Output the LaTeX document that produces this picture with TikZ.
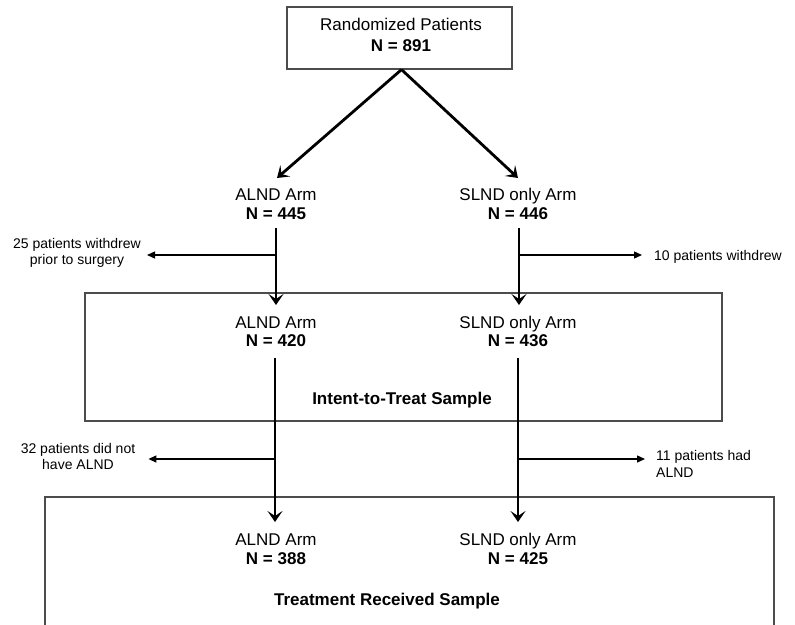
\documentclass[tikz,border=0pt]{standalone}
\usepackage{fontspec}
\setmainfont{Liberation Sans}
\usetikzlibrary{arrows.meta}
\begin{document}
\begin{tikzpicture}[x=1pt,y=-1pt,
  frame/.style={draw=black!70, line width=1.2pt},
  maintxt/.style={font=\fontsize{17}{18.5}\selectfont, align=center, inner sep=0pt},
  sidetxt/.style={font=\fontsize{14}{16.5}\selectfont, inner sep=0pt},
  bigarrow/.style={line width=2.8pt, -{Stealth[length=11pt,width=15pt,inset=5pt]}},
  smallarrow/.style={line width=1.3pt, -{Triangle[length=8pt,width=7pt]}}]
\useasboundingbox (0,0) rectangle (795,624);

% top box
\node[frame, minimum width=225pt, minimum height=62pt, inner sep=0pt] (top) at (399.5,38) {};
\node[font=\fontsize{17}{20.5}\selectfont, align=center, inner sep=0pt] (toptxt) at (401,35) {Randomized Patients\\\textbf{N = 891}};

% arm labels
\node[maintxt] (alnd1) at (276,204) {ALND Arm\\\textbf{N = 445}};
\node[maintxt] (slnd1) at (518,204) {SLND only Arm\\\textbf{N = 446}};

% intent-to-treat box
\node[frame, minimum width=637pt, minimum height=128pt, inner sep=0pt] (itbox) at (403.5,357) {};
\node[maintxt] (alnd2) at (276,331.5) {ALND Arm\\\textbf{N = 420}};
\node[maintxt] (slnd2) at (518,331.5) {SLND only Arm\\\textbf{N = 436}};
\node[maintxt, font=\fontsize{17}{18.5}\selectfont\bfseries] (itt) at (402,400) {Intent-to-Treat Sample};

% treatment received box (open at bottom)
\draw[frame] (45,630) -- (45,497) -- (774,497) -- (774,630);
\node[maintxt] (alnd3) at (276,549) {ALND Arm\\\textbf{N = 388}};
\node[maintxt] (slnd3) at (518,549) {SLND only Arm\\\textbf{N = 425}};
\node[maintxt, font=\fontsize{17}{18.5}\selectfont\bfseries] (trs) at (387,601) {Treatment Received Sample};

% side notes
\node[sidetxt, align=center] (w1) at (77,253) {25 patients withdrew\\prior to surgery};
\node[sidetxt, anchor=west] (w2) at (654,256.5) {10 patients withdrew};
\node[sidetxt, align=center] (w3) at (78,456.5) {32 patients did not\\have ALND};
\node[sidetxt, align=left, anchor=west] (w4) at (656,464) {11 patients had\\ALND};

% connector points
\coordinate (a1in) at (277,178);
\coordinate (s1in) at (518,178);
\coordinate (a1out) at (276,228);
\coordinate (s1out) at (519,228);
\coordinate (a2in) at (276,305);
\coordinate (s2in) at (519,305);
\coordinate (a2out) at (275,358);
\coordinate (s2out) at (518,358);
\coordinate (a3in) at (275,522);
\coordinate (s3in) at (518,522);
\coordinate (b1) at (276,255);
\coordinate (b2) at (519,255);
\coordinate (b3) at (275,459);
\coordinate (b4) at (518,459);

% connectors
\draw[bigarrow] ([xshift=2pt]top.south) -- (a1in);
\draw[bigarrow] ([xshift=2pt]top.south) -- (s1in);
\draw[bigarrow] (a1out) -- (a2in);
\draw[bigarrow] (s1out) -- (s2in);
\draw[bigarrow] (a2out) -- (a3in);
\draw[bigarrow] (s2out) -- (s3in);
\draw[smallarrow, shorten >=6pt] (b1) -- (b1 -| w1.east);
\draw[smallarrow, shorten >=12pt] (b2) -- (b2 -| w2.west);
\draw[smallarrow, shorten >=13pt] (b3) -- (b3 -| w3.east);
\draw[smallarrow, shorten >=11pt] (b4) -- (b4 -| w4.west);
\end{tikzpicture}
\end{document}
